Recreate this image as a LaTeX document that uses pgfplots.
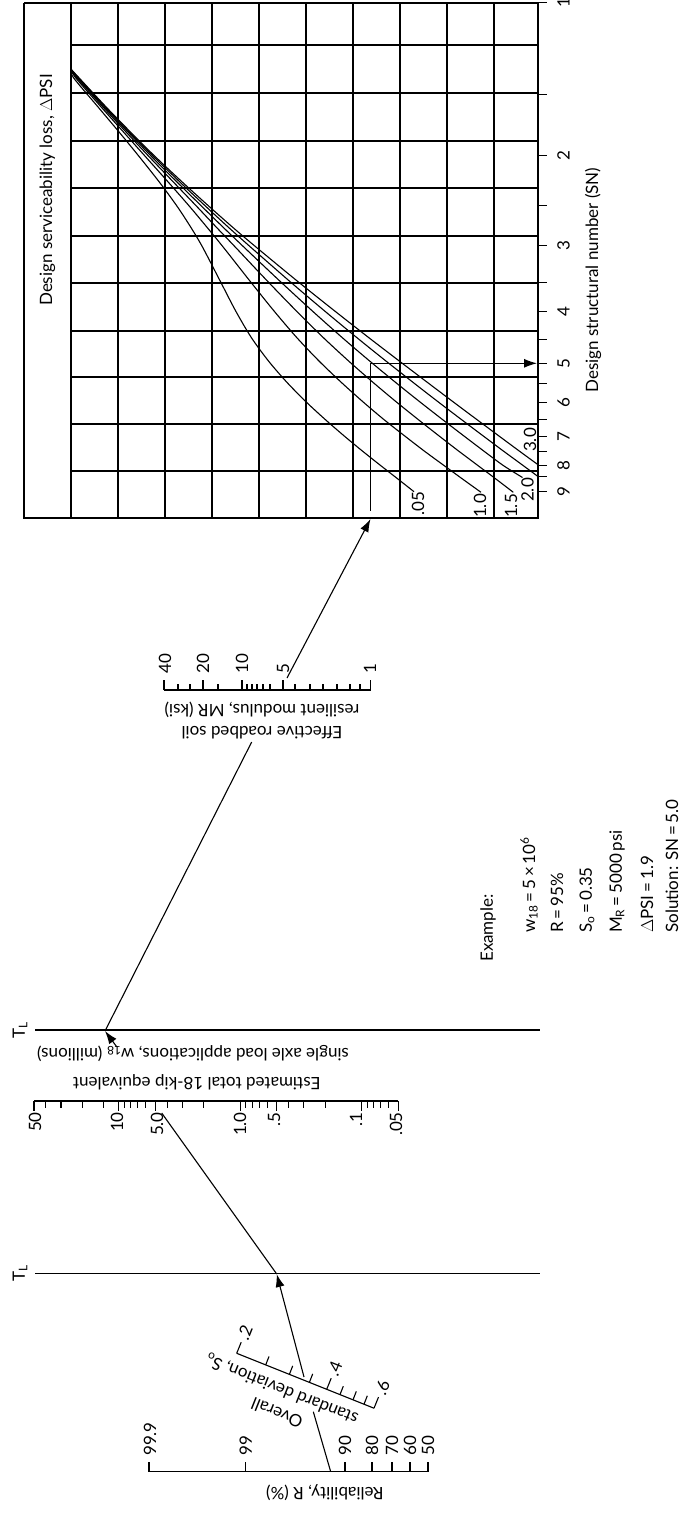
\documentclass[border=0pt]{standalone}
\usepackage{pgfplots}
\pgfplotsset{compat=1.18}
\usetikzlibrary{arrows.meta}
\usepackage{fontspec}
\setmainfont{Lato}
\newcommand\fs{\fontsize{17bp}{20bp}\selectfont}
\tikzset{arr/.style={-{Latex[length=13bp,width=9bp]}}}
\begin{document}
\begin{tikzpicture}[every node/.style={font=\fs, inner sep=0pt}]
\begin{axis}[name=ax, x=1bp, y=1bp, y dir=reverse,
  xmin=0, xmax=687, ymin=0, ymax=1513, hide axis, clip=false,
  cycle list={{black,solid,mark=none}},
  every axis plot/.append style={black, solid, line width=1.1bp, mark=none}]
\addplot[draw=none] coordinates {(0,0) (687,1513)};
% ---------------- grid ----------------
\pgfplotsinvokeforeach{71,118,165,212,259,306,353,400,447,494}{\addplot coordinates {(#1,3) (#1,518)};}
\pgfplotsinvokeforeach{45,93,141,188,236,283,331,377,424,471}{\addplot coordinates {(71,#1) (538,#1)};}
\addplot coordinates {(24,3) (538,3) (538,518) (24,518) (24,3)};
% SN ticks
\pgfplotsinvokeforeach{2.7,94.3,155.7,205.7,245.7,282.7,311.7,339.3,363.3,383.3,402.7,419.3,436.7,451.7,465.7,476.7,491.7}{\addplot coordinates {(538,#1) (547,#1)};}
% curves (Delta PSI)
\addplot[smooth] coordinates {(71,69.2) (73.4,77.6) (98.3,107.3) (120.3,133.5) (139.5,157.0) (160.2,183.2) (177.3,206.6) (191.2,227.9) (202.6,247.2) (220.4,281.5) (235.8,311.2) (251.3,337.5) (268.4,360.9) (286.7,382.1) (305.7,401.5) (325.0,419.3) (344.0,435.8) (362.6,451.2) (380.6,465.5) (397.9,479.0) (414.0,491.7)};
\addplot[smooth] coordinates {(71,69.2) (75.5,77.6) (101.4,107.3) (124.8,133.5) (145.8,157.0) (169.2,183.2) (189.7,206.6) (207.5,227.9) (223.3,247.2) (250.3,281.5) (274.2,311.2) (296.7,337.5) (318.9,360.9) (341.0,382.1) (362.6,401.5) (383.6,419.3) (404.5,435.8) (424.5,451.2) (444.0,465.5) (462.5,479.0) (481.0,492.3)};
\addplot[smooth] coordinates {(71,69.2) (76.7,77.6) (103.2,107.3) (127.4,133.5) (149.4,157.0) (174.5,183.2) (196.9,206.6) (217.0,227.9) (235.4,247.2) (267.8,281.5) (296.6,311.2) (323.2,337.5) (348.5,360.9) (372.7,382.1) (395.8,401.5) (417.9,419.3) (438.9,435.8) (458.8,451.2) (477.9,465.5) (495.9,479.0) (513.3,492.3)};
\addplot[smooth] coordinates {(71,69.2) (77.6,77.6) (104.5,107.3) (129.3,133.5) (152.0,157.0) (178.2,183.2) (202.0,206.6) (223.8,227.9) (244.0,247.2) (280.3,281.5) (312.6,311.2) (342.1,337.5) (369.5,360.9) (395.2,382.1) (419.4,401.5) (442.2,419.3) (463.7,435.8) (484.0,451.2) (503.3,465.5) (522.5,477.5)};
\addplot[smooth] coordinates {(71,69.2) (78.3,77.6) (105.6,107.3) (130.7,133.5) (154.0,157.0) (181.1,183.2) (206.0,206.6) (229.1,227.9) (250.7,247.2) (289.9,281.5) (324.9,311.2) (356.7,337.5) (385.8,360.9) (412.7,382.1) (437.7,401.5) (461.1,419.3) (483.0,435.8) (503.6,451.2) (523.1,465.5) (538,476.5)};
\addplot[smooth] coordinates {(71,69.2) (78.8,77.6) (106.4,107.3) (131.9,133.5) (155.6,157.0) (183.5,183.2) (209.3,206.6) (233.4,227.9) (256.2,247.2) (297.8,281.5) (335.0,311.2) (368.6,337.5) (399.1,360.9) (427.0,382.1) (452.7,401.5) (476.5,419.3) (498.7,435.8) (519.5,451.2) (538,464.7)};
% pivot path
\addplot[arr] coordinates {(370.7,510.7) (370.7,363.3) (537,363.3)};
% ---------------- MR scale ----------------
\addplot coordinates {(164,690) (370.7,690)};
\pgfplotsinvokeforeach{164,203,242,283,370.7}{\addplot coordinates {(#1,690) (#1,680)};}
\pgfplotsinvokeforeach{178,190,218,247,252,257,263,270,295,310,323,337,350,360}{\addplot coordinates {(#1,690) (#1,684)};}
% ---------------- TL lines ----------------
\addplot coordinates {(35,1030) (540,1030)};
\addplot coordinates {(35,1273.3) (540,1273.3)};
% ---------------- w18 scale ----------------
\addplot coordinates {(34,1101) (398.2,1101)};
\pgfplotsinvokeforeach{34,118.9,155.4,240.3,276.8,361.7,398.2}{\addplot coordinates {(#1,1101) (#1,1111)};}
\pgfplotsinvokeforeach{45.8,61.0,82.4,103.5,124.5,130.7,137.7,145.8,167.2,182.4,203.8,245.9,252.1,259.1,267.2,288.6,303.8,325.2,367.2,373.5,380.5,388.6}{\addplot coordinates {(#1,1101) (#1,1108)};}
% ---------------- Reliability scale ----------------
\addplot coordinates {(149,1471.7) (428,1471.7)};
\pgfplotsinvokeforeach{149,245.7,345,372,392,410,428}{\addplot coordinates {(#1,1471.7) (#1,1461.7)};}
% ---------------- So scale ----------------
\addplot coordinates {(236.7,1353.3) (374,1408.2)};
\addplot coordinates {(236.7,1353.3) (241.2,1342.2)};
\addplot coordinates {(326.7,1389.3) (331.2,1378.2)};
\addplot coordinates {(374,1408.2) (378.5,1397.1)};
\addplot coordinates {(265.7,1364.9) (269.0,1356.5)};
\addplot coordinates {(289.4,1374.3) (292.7,1365.9)};
\addplot coordinates {(309.4,1382.3) (312.7,1373.9)};
\addplot coordinates {(340.0,1394.6) (343.3,1386.2)};
\addplot coordinates {(353.0,1399.8) (356.3,1391.4)};
\addplot coordinates {(364.0,1404.2) (367.3,1395.8)};
% ---------------- construction lines ----------------
\addplot coordinates {(330.7,1471.7) (313.3,1411.7)};
\addplot[arr] coordinates {(304,1377) (276.7,1274)};
\addplot coordinates {(276.7,1274) (161.7,1113)};
\addplot[arr] coordinates {(116.7,1046.7) (105,1031)};
\addplot coordinates {(105,1031) (251.7,742)};
\addplot[arr] coordinates {(287,678) (370.5,519)};
% ---------------- texts ----------------
\node[rotate=90] at (axis cs:47.5,190) {Design serviceability loss, $\Delta$PSI};
\node[rotate=90] at (axis cs:593,280) {Design structural number (SN)};
\node[rotate=90] at (axis cs:563.5,2.7) {1};
\node[rotate=90] at (axis cs:563.5,155.7) {2};
\node[rotate=90] at (axis cs:563.5,245.7) {3};
\node[rotate=90] at (axis cs:563.5,311.7) {4};
\node[rotate=90] at (axis cs:563.5,363.3) {5};
\node[rotate=90] at (axis cs:563.5,402.7) {6};
\node[rotate=90] at (axis cs:563.5,436.7) {7};
\node[rotate=90] at (axis cs:563.5,465.7) {8};
\node[rotate=90] at (axis cs:563.5,491.7) {9};
\node[rotate=90] at (axis cs:418,504) {.05};
\node[rotate=90] at (axis cs:480,506) {1.0};
\node[rotate=90] at (axis cs:511,506) {1.5};
\node[rotate=90] at (axis cs:527.5,490) {2.0};
\node[rotate=90] at (axis cs:530,440) {3.0};
% MR
\node[rotate=90,anchor=west] at (axis cs:165,674) {40};
\node[rotate=90,anchor=west] at (axis cs:203,674) {20};
\node[rotate=90,anchor=west] at (axis cs:242,674) {10};
\node[rotate=90,anchor=west] at (axis cs:283,674) {5};
\node[rotate=90,anchor=west] at (axis cs:370,674) {1};
\node[rotate=180] at (axis cs:262,710) {resilient modulus, MR (ksi)};
\node[rotate=180] at (axis cs:262,733) {Effective roadbed soil};
% Example
\node[rotate=90,anchor=west] at (axis cs:488,962) {Example:};
\node[rotate=90,anchor=west] at (axis cs:529,933) {w\textsubscript{18}\,=\,5\,×\,10\textsuperscript{6}};
\node[rotate=90,anchor=west] at (axis cs:557,933) {R\,=\,95\%};
\node[rotate=90,anchor=west] at (axis cs:587,933) {S\textsubscript{o}\,=\,0.35};
\node[rotate=90,anchor=west] at (axis cs:617,933) {M\textsubscript{R}\,=\,5000\,psi};
\node[rotate=90,anchor=west] at (axis cs:647,933) {$\Delta$PSI\,=\,1.9};
\node[rotate=90,anchor=west] at (axis cs:672,933) {Solution: SN\,=\,5.0};
% TL
\node[rotate=90] at (axis cs:20,1030) {T\textsubscript{L}};
\node[rotate=90] at (axis cs:20,1273) {T\textsubscript{L}};
% w18
\node[rotate=180,anchor=east] at (axis cs:73,1082) {Estimated total 18-kip equivalent};
\node[rotate=180,anchor=east] at (axis cs:37,1054) {single axle load applications, w\textsubscript{18} (millions)};
\node[rotate=90,anchor=east] at (axis cs:35,1112) {50};
\node[rotate=90,anchor=east] at (axis cs:117,1112) {10};
\node[rotate=90,anchor=east] at (axis cs:157,1112) {5.0};
\node[rotate=90,anchor=east] at (axis cs:240,1112) {1.0};
\node[rotate=90,anchor=east] at (axis cs:274,1112) {.5};
\node[rotate=90,anchor=east] at (axis cs:356,1112) {.1};
\node[rotate=90,anchor=east] at (axis cs:396,1112) {.05};
% So
\node[rotate=68.2,anchor=west] at (axis cs:242.3,1339.4) {.2};
\node[rotate=68.2,anchor=west] at (axis cs:332.3,1375.4) {.4};
\node[rotate=68.2,anchor=west] at (axis cs:379.6,1394.3) {.6};
\node[rotate=158.2] at (axis cs:282,1389) {standard deviation, S\textsubscript{o}};
\node[rotate=158.2] at (axis cs:277,1413) {Overall};
% Reliability
\node[rotate=90,anchor=west] at (axis cs:150,1456) {99.9};
\node[rotate=90,anchor=west] at (axis cs:245.7,1456) {99};
\node[rotate=90,anchor=west] at (axis cs:345,1456) {90};
\node[rotate=90,anchor=west] at (axis cs:372,1456) {80};
\node[rotate=90,anchor=west] at (axis cs:392,1456) {70};
\node[rotate=90,anchor=west] at (axis cs:410,1456) {60};
\node[rotate=90,anchor=west] at (axis cs:428,1456) {50};
\node[rotate=180,anchor=east] at (axis cs:266,1493) {Reliability, R (\%)};
\end{axis}
\pgfresetboundingbox
\path (ax.south west) rectangle (ax.north east);
\end{tikzpicture}
\end{document}
